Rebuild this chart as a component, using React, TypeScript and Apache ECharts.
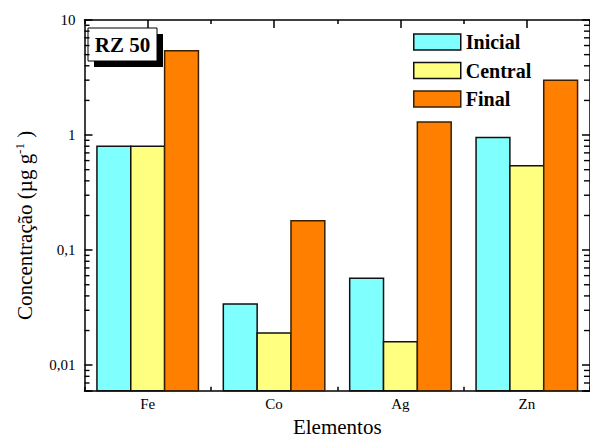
import React, { useEffect, useRef } from "react";
import * as echarts from "echarts";

const FONT = "'Liberation Serif', 'Times New Roman', serif";

const categories = ["Fe", "Co", "Ag", "Zn"];
const inicial = [0.8, 0.034, 0.057, 0.95];
const central = [0.8, 0.019, 0.016, 0.54];
const finalV = [5.4, 0.18, 1.3, 3.0];

const Y_MIN = 0.006;
const Y_MAX = 10;
const yMajorValues = [0.01, 0.1, 1, 10];
const yTickLabels = ["0,01", "0,1", "1", "10"];
const yMinorValues = [
  0.006, 0.007, 0.008, 0.009,
  0.02, 0.03, 0.04, 0.05, 0.06, 0.07, 0.08, 0.09,
  0.2, 0.3, 0.4, 0.5, 0.6, 0.7, 0.8, 0.9,
  2, 3, 4, 5, 6, 7, 8, 9,
];

const BAR_RATIO = 34 / 127;

export default function App() {
  const ref = useRef<HTMLDivElement>(null);
  useEffect(() => {
    document.body.style.margin = "0";
    const chart = echarts.init(ref.current!, null, { renderer: "svg" });

    const seriesDefs = [
      { name: "Inicial", values: inicial, color: "#80FFFF", border: "#111111", k: -1 },
      { name: "Central", values: central, color: "#FFFF80", border: "#111111", k: 0 },
      { name: "Final", values: finalV, color: "#FF8000", border: "#3a1f00", k: 1 },
    ];

    const barSeries = seriesDefs.map((d) => ({
      type: "custom",
      name: d.name,
      xAxisIndex: 0,
      yAxisIndex: 0,
      data: categories.map((_, i) => [i, d.values[i]]),
      encode: { x: 0, y: 1 },
      itemStyle: { color: d.color, borderColor: d.border, borderWidth: 1.5 },
      renderItem: (params: any, api: any) => {
        const ci = api.value(0);
        const v = api.value(1);
        const top = api.coord([ci, v]);
        const base = api.coord([ci, Y_MIN]);
        const band = api.size([1, 1])[0];
        const w = band * BAR_RATIO;
        const x = top[0] + d.k * w - w / 2;
        return {
          type: "rect",
          shape: { x, y: top[1], width: w, height: base[1] - top[1] },
          style: { fill: d.color, stroke: d.border, lineWidth: 1.5 },
        };
      },
    }));

    // minor y ticks: scatter marks on a hidden 0..1 value axis (0 = left edge, 1 = right edge)
    const mkMinor = (side: "left" | "right") => ({
      type: "scatter",
      xAxisIndex: 4,
      yAxisIndex: 0,
      silent: true,
      clip: false,
      z: 20,
      symbol: "rect",
      symbolSize: [side === "left" ? 5 : 6, 1.4],
      symbolOffset: [side === "left" ? "50%" : "-50%", 0],
      itemStyle: { color: "#000", opacity: 1 },
      data: yMinorValues.map((v) => [side === "left" ? 0 : 1, v]),
    });

    const lineStyle = { color: "#000", width: 1.5 };
    const baseX = {
      type: "category",
      data: categories,
      boundaryGap: true,
      axisLine: { show: true, onZero: false, lineStyle },
      splitLine: { show: false },
    };

    const option: any = {
      animation: false,
      grid: { left: 84.5, right: -2.5, top: 20, bottom: 52.3 },
      legend: {
        orient: "vertical",
        left: 408,
        top: 27,
        itemWidth: 47,
        itemHeight: 16,
        itemGap: 8.5,
        selectedMode: false,
        textStyle: { fontFamily: FONT, fontWeight: "bold", fontSize: 20, color: "#000", lineHeight: 16 },
        data: seriesDefs.map((d) => ({
          name: d.name,
          icon: "rect",
          itemStyle: { color: d.color, borderColor: d.border, borderWidth: 1.5 },
        })),
      },
      xAxis: [
        {
          ...baseX,
          position: "bottom",
          axisTick: { show: true, inside: true, length: 4, lineStyle },
          axisLabel: { show: true, fontFamily: FONT, fontSize: 15, color: "#000", margin: 6 },
          name: "Elementos",
          nameLocation: "middle",
          nameGap: 25,
          nameTextStyle: { fontFamily: FONT, fontSize: 21, color: "#000" },
        },
        {
          ...baseX,
          position: "bottom",
          axisLine: { show: false, onZero: false },
          axisTick: { show: true, inside: true, length: 8, alignWithLabel: true, lineStyle },
          axisLabel: { show: false },
        },
        {
          ...baseX,
          position: "top",
          axisTick: { show: true, inside: true, length: 4, lineStyle },
          axisLabel: { show: false },
        },
        {
          ...baseX,
          position: "top",
          axisLine: { show: false, onZero: false },
          axisTick: { show: true, inside: true, length: 8, alignWithLabel: true, lineStyle },
          axisLabel: { show: false },
        },
        {
          type: "value",
          min: 0,
          max: 1,
          show: false,
          splitLine: { show: false },
        },
      ],
      yAxis: [
        {
          type: "log",
          logBase: 10,
          position: "left",
          min: Y_MIN,
          max: Y_MAX,
          axisLine: { show: true, onZero: false, lineStyle },
          axisTick: { show: true, inside: true, length: 8, lineStyle },
          splitLine: { show: false },
          axisLabel: {
            fontFamily: FONT,
            fontSize: 15,
            color: "#000",
            margin: 9,
            formatter: (v: number) => {
              const i = yMajorValues.findIndex((m) => Math.abs(Math.log10(v) - Math.log10(m)) < 1e-6);
              return i >= 0 ? yTickLabels[i] : "";
            },
          },
          name: "Concentração (µg g{sup|-1}{b| )}",
          nameLocation: "middle",
          nameGap: 48,
          nameRotate: 90,
          nameTextStyle: {
            fontFamily: FONT,
            fontSize: 21,
            color: "#000",
            lineHeight: 24,
            padding: [0, 40, 0, 0],
            rich: {
              sup: { fontFamily: FONT, fontSize: 13, color: "#000", verticalAlign: "top", lineHeight: 24 },
              b: { fontFamily: FONT, fontSize: 21, color: "#000", lineHeight: 24 },
            },
          },
        },
        {
          type: "log",
          logBase: 10,
          position: "right",
          min: Y_MIN,
          max: Y_MAX,
          axisLine: { show: true, onZero: false, lineStyle },
          axisTick: { show: true, inside: true, length: 8, lineStyle },
          splitLine: { show: false },
          axisLabel: { show: false },
        },
      ],
      graphic: [
        {
          type: "group",
          z: 100,
          children: [
            { type: "rect", shape: { x: 94, y: 34, width: 69, height: 33 }, style: { fill: "#000" } },
            { type: "rect", shape: { x: 88, y: 28, width: 69, height: 33 }, style: { fill: "#fff", stroke: "#000", lineWidth: 1 } },
            {
              type: "text",
              x: 122.5,
              y: 45,
              style: {
                text: "RZ 50",
                fontFamily: FONT,
                fontWeight: "bold",
                fontSize: 21,
                fill: "#000",
                align: "center",
                verticalAlign: "middle",
              },
            },
          ],
        },
      ],
      series: [...barSeries, mkMinor("left"), mkMinor("right")],
    };

    chart.setOption(option);
    return () => chart.dispose();
  }, []);

  return <div ref={ref} style={{ position: "absolute", left: 0, top: 0, width: 590, height: 443 }} />;
}
